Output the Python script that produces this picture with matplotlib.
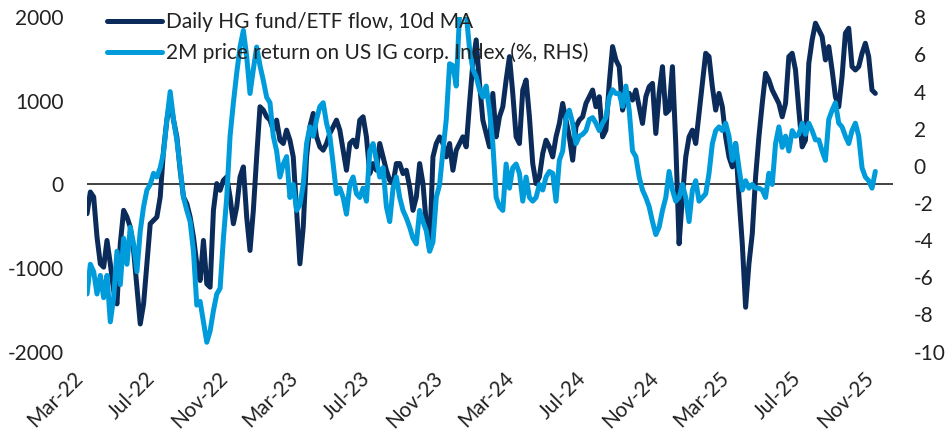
import matplotlib
matplotlib.use("Agg")
import matplotlib.pyplot as plt
import matplotlib.dates as mdates
import pandas as pd

plt.rcParams["font.family"] = "Lato"
plt.rcParams["axes.unicode_minus"] = False

navy = "#0B2C5A"
light_blue = "#009BDB"
text_color = "#222222"

first_day = "2022-03-01"
last_day = "2025-10-28"
axis_end = "2025-11-27"

# Daily HG fund/ETF flow, 10d MA (left axis)
hg_flow = [
    -350, -90, -150, -630, -950, -990, -670, -950, -1270, -1430,
    -710, -310, -390, -510, -790, -1230, -1670, -1430, -950, -470,
    -430, -390, -150, 410, 770, 1010, 770, 570, 170, -150,
    -230, -390, -630, -950, -1150, -670, -1190, -1230, -310, 10,
    -70, 50, 90, -150, -470, -270, 90, 210, -390, -790,
    -310, 330, 930, 890, 810, 770, 650, 770, 530, 490,
    650, 530, 330, -310, -950, -510, 330, 690, 850, 570,
    450, 410, 490, 610, 690, 770, 650, 410, 170, 490,
    530, 450, 770, 810, 570, 130, 250, 170, 490, 330,
    170, 50, 10, 250, 250, 130, 170, -30, -310, -150,
    250, 10, -470, -790, 330, 490, 570, 490, 330, 490,
    170, 410, 490, 570, 450, 970, 1450, 1730, 1210, 770,
    610, 450, 1090, 570, 810, 930, 1250, 1530, 1090, 570,
    490, 1130, 1250, 810, 250, 10, 90, 370, 530, 450,
    330, 570, 730, 970, 770, 570, 290, 690, 770, 810,
    970, 1050, 1130, 930, 1050, 570, 650, 1210, 1650, 1490,
    1410, 890, 1050, 1090, 1010, 1130, 930, 730, 1050, 1170,
    1210, 610, 1090, 1410, 850, 890, 1410, 490, -710, -150,
    330, 570, 650, 490, 850, 1210, 1570, 1530, 1170, 890,
    1090, 930, 570, 330, 210, 490, -150, -710, -1470, -950,
    -590, 90, 570, 970, 1330, 1250, 1130, 1050, 970, 810,
    970, 1530, 1570, 1370, 890, 450, 530, 1450, 1730, 1930,
    1850, 1770, 1490, 1650, 1370, 1050, 930, 1290, 1810, 1870,
    1410, 1370, 1410, 1570, 1690, 1530, 1130, 1090,
]

# 2M price return on US IG corp. Index, % (right axis)
ig_return = [
    -6.9, -5.3, -5.7, -6.9, -5.9, -7.1, -5.9, -8.4, -7.1, -4.6,
    -6.4, -3.9, -5.3, -3.3, -4.2, -5.7, -3.5, -2.2, -1.3, -1.0,
    -0.4, -0.6, -0.1, 0.7, 2.5, 4.0, 2.5, 1.4, -0.1, -1.7,
    -2.4, -3.0, -4.6, -7.5, -7.3, -8.4, -9.5, -8.9, -7.8, -6.9,
    -6.6, -3.9, -1.7, 1.6, 3.4, 5.0, 6.4, 7.3, 5.9, 3.9,
    5.2, 6.4, 5.4, 4.6, 3.7, 3.4, 1.6, 0.8, -0.6, 0.1,
    0.5, -1.7, -1.0, -2.4, -2.1, -1.0, 1.2, 2.1, 1.6, 2.5,
    3.2, 3.4, 2.3, 1.6, 0.1, -1.5, -1.2, -1.7, -2.6, -1.0,
    -0.6, -1.5, -1.7, -1.2, -1.9, 0.8, 1.2, 0.3, -0.6, -0.1,
    -2.2, -3.0, -1.2, -0.6, -1.7, -2.4, -2.8, -3.3, -3.9, -4.2,
    -2.4, -3.0, -3.5, -4.6, -4.1, -1.7, -1.0, 0.8, 2.5, 5.5,
    5.4, 4.3, 8.2, 8.4, 8.2, 6.3, 5.2, 4.8, 4.1, 3.7,
    4.3, 3.0, 1.2, -1.7, -2.2, -2.4, 0.1, -1.2, -0.1, 0.1,
    -0.4, -1.9, -0.6, -1.7, -1.9, -1.7, -1.0, -1.3, -0.6, -0.3,
    -0.4, -1.9, 0.3, 0.8, 2.6, 3.0, 2.3, 1.2, 1.6, 1.7,
    1.9, 2.5, 2.6, 2.3, 1.9, 2.3, 2.6, 3.7, 4.1, 3.9,
    3.9, 3.2, 4.3, 3.0, 0.8, 0.5, -0.6, -1.3, -1.7, -2.2,
    -3.0, -3.7, -3.3, -2.4, -1.7, -0.3, -1.3, -1.9, -1.7, -1.0,
    -1.7, -3.0, -1.3, -0.8, -1.9, -1.7, -1.5, -0.4, 1.2, 1.9,
    2.1, 1.9, 2.3, 1.6, 0.3, 1.2, -0.1, -1.3, -0.8, -1.2,
    -1.0, -1.2, -1.2, -1.3, -1.7, -0.4, -1.0, 1.2, 2.1, 1.0,
    1.6, 0.8, 1.9, 1.6, 1.7, 2.3, 1.7, 2.3, 1.9, 1.4,
    1.4, 0.8, 0.3, 2.5, 3.0, 3.4, 2.3, 2.1, 1.6, 1.2,
    1.9, 2.3, 1.6, -0.1, -0.6, -0.8, -1.2, -0.3,
]

left_ticks = [-2000, -1000, 0, 1000, 2000]
right_ticks = [-10, -8, -6, -4, -2, 0, 2, 4, 6, 8]

dates = pd.date_range(first_day, last_day, periods=len(hg_flow))

fig = plt.figure(figsize=(9.46, 4.34), dpi=100)
ax = fig.add_axes([0.092, 0.19, 0.852, 0.77])
ax2 = ax.twinx()

l1, = ax.plot(dates, hg_flow, color=navy, lw=3.6, solid_joinstyle="round",
              solid_capstyle="round", label="Daily HG fund/ETF flow, 10d MA")
l2, = ax2.plot(dates, ig_return, color=light_blue, lw=3.6, solid_joinstyle="round",
               solid_capstyle="round", label="2M price return on US IG corp. Index (%, RHS)")
ax.axhline(0, color="#333333", lw=1.3, zorder=1)

ax.set_ylim(-2000, 2000)
ax2.set_ylim(-10, 8)
ax.set_yticks(left_ticks)
ax2.set_yticks(right_ticks)
ax.set_xlim(pd.Timestamp(first_day), pd.Timestamp(axis_end))

ax.xaxis.set_major_locator(mdates.MonthLocator(bymonth=[3, 7, 11]))
ax.xaxis.set_major_formatter(mdates.DateFormatter("%b-%y"))
for label in ax.get_xticklabels():
    label.set_rotation(45)
    label.set_ha("right")

for a in (ax, ax2):
    for s in a.spines.values():
        s.set_visible(False)
    a.tick_params(length=0, labelsize=15, colors=text_color)
ax.tick_params(axis="y", pad=17)
ax2.tick_params(axis="y", pad=15)
ax.tick_params(axis="x", pad=12)

ax2.legend(handles=[l1, l2], loc="upper left", bbox_to_anchor=(0.015, 1.04),
           frameon=False, fontsize=15, handlelength=2.6, handletextpad=0.2,
           labelspacing=0.5, borderaxespad=0, labelcolor=text_color)

fig.savefig("out.png", dpi=100)
